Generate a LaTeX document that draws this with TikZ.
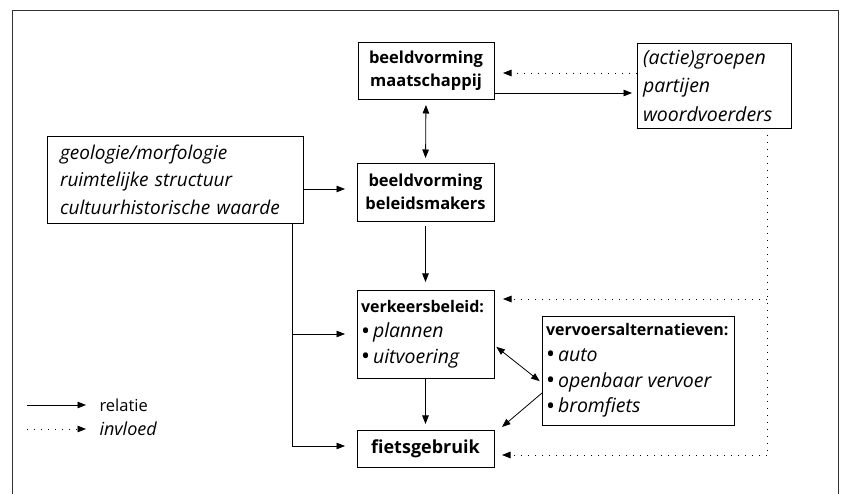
\documentclass[tikz,border=0pt]{standalone}
\usepackage{fontspec}
\setmainfont{Open Sans}
\usetikzlibrary{arrows.meta,calc}
\newcommand{\blt}{{\fontsize{24}{0}\selectfont\raisebox{-1.5pt}{\textbullet}}\hspace{3pt}}
\begin{document}
\begin{tikzpicture}[x=1pt,y=-1pt,
  box/.style={draw,line width=0.9pt,inner sep=0pt,outer sep=0pt},
  boldtxt/.style={font=\bfseries\fontsize{16.5}{23}\selectfont},
  ittxt/.style={font=\itshape\fontsize{19.5}{28.5}\selectfont},
  listtxt/.style={font=\fontsize{16}{25.6}\selectfont},
  rel/.style={line width=0.8pt,-{Triangle[length=8.5pt,width=6.5pt]}},
  dbl/.style={line width=0.8pt,{Triangle[length=8.5pt,width=6.5pt]}-{Triangle[length=8.5pt,width=6.5pt]}},
  infl/.style={line width=0.8pt,dash pattern=on 1pt off 6pt,-{Triangle[length=8.5pt,width=6.5pt]}},
  frameline/.style={line width=0.8pt,draw=black!80},
]
\useasboundingbox (0,0) rectangle (844,494);
% outer frame (open at the bottom)
\draw[frameline] (12,494) -- (12,10) -- (838,10) -- (838,494);

% boxes
\node[box,boldtxt,align=center,minimum width=136pt,minimum height=57pt] (b1) at (426,70.5) {beeldvorming\\maatschappij};
\node[box,ittxt,align=left,minimum width=154pt,minimum height=85pt,text width=142pt,inner xsep=6pt] (b2) at (714,85.5) {(actie)groepen\\partijen\\woordvoerders};
\node[box,align=left,minimum width=256pt,minimum height=87pt,text width=230pt,inner xsep=13pt,font=\itshape\fontsize{19}{27.5}\selectfont] (geo) at (175,179.5) {geologie/morfologie\\ruimtelijke structuur\\cultuurhistorische waarde};
\node[box,boldtxt,align=center,minimum width=137pt,minimum height=58pt] (b3) at (425.5,192) {beeldvorming\\beleidsmakers};
\node[box,listtxt,align=left,minimum width=137pt,minimum height=88pt,text width=129pt,inner xsep=4pt] (vb) at (425.5,334) {\textbf{verkeersbeleid:}\\\blt{\itshape\fontsize{19.5}{0}\selectfont plannen}\\\blt{\itshape\fontsize{19.5}{0}\selectfont uitvoering}};
\node[box,align=center,minimum width=137pt,minimum height=37pt,font=\bfseries\fontsize{18}{22}\selectfont] (fb) at (425.5,448.5) {fietsgebruik};
\node[box,listtxt,align=left,minimum width=192pt,minimum height=109pt,text width=184pt,inner xsep=4pt] (va) at (638,370.5) {\textbf{vervoersalternatieven:}\\\blt{\itshape\fontsize{19.5}{0}\selectfont auto}\\\blt{\itshape\fontsize{19.5}{0}\selectfont openbaar vervoer}\\\blt{\itshape\fontsize{19.5}{0}\selectfont bromfiets}};

% legend
\node[anchor=west,font=\fontsize{16.5}{20}\selectfont] (lrel) at (96,405) {relatie};
\node[anchor=west,font=\itshape\fontsize{18}{20}\selectfont] (linf) at (96,429) {invloed};
\coordinate (l1) at (27,405);
\coordinate (l2) at (27,429);
\draw[rel,shorten >=10pt] (l1) -- (lrel.west);
\draw[infl,shorten >=10pt] (l2) -- (linf.west);

% relations
\draw[rel,shorten >=5pt] ([yshift=-22.5pt]b1.east) -- ([yshift=-7.5pt]b2.west);
\draw[dbl,shorten <=6pt,shorten >=5pt] (b1.south) -- (b3.north);
\coordinate (g1) at ([yshift=-9.5pt]geo.east);
\draw[rel,shorten >=12pt] (g1) -- (g1 -| b3.west);
\draw[rel,shorten <=5pt,shorten >=8pt] (b3.south) -- (vb.north);
\coordinate (gb) at ([xshift=117pt]geo.south);
\draw[rel,shorten >=12pt] (gb |- vb.west) -- (vb.west);
\coordinate (gf) at ([yshift=2.5pt]fb.west);
\draw[rel,shorten >=12pt] (gb) |- (gf);
\draw[rel,shorten >=6pt] (vb.south) -- (fb.north);
\draw[dbl,shorten <=3pt,shorten >=3pt] ([yshift=-11pt]vb.east) -- ([yshift=-12.5pt]va.west);
\draw[rel] ([yshift=-22.5pt]va.west) -- ([xshift=8pt,yshift=3pt]fb.north east);

% influences
\draw[infl,shorten >=9pt] ([yshift=12.5pt]b2.west) -- ([yshift=-2.5pt]b1.east);
\coordinate (d1) at ([xshift=53pt]b2.south);
\coordinate (dv) at ([yshift=35pt]vb.east);
\coordinate (df) at ([yshift=-6.5pt]fb.east);
\draw[line width=0.8pt,dash pattern=on 1pt off 6pt] (d1) -- ([yshift=-2pt]d1 |- df);
\draw[infl,shorten >=9pt] (d1 |- dv) -- (dv);
\draw[infl,shorten >=8pt] (d1 |- df) -- (df);
\end{tikzpicture}
\end{document}
